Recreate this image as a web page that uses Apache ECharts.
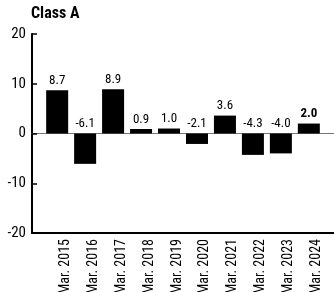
<!DOCTYPE html>
<html><head><meta charset="utf-8">
<script src="https://cdn.jsdelivr.net/npm/echarts@6/dist/echarts.min.js"></script>
<style>html,body{margin:0;padding:0;background:#fff}#c{width:334px;height:292px}</style>
</head><body><div id="c"></div>
<script>
const categories = ['Mar. 2015','Mar. 2016','Mar. 2017','Mar. 2018','Mar. 2019','Mar. 2020','Mar. 2021','Mar. 2022','Mar. 2023','Mar. 2024'];
const values = [8.7, -6.1, 8.9, 0.9, 1.0, -2.1, 3.6, -4.3, -4.0, 2.0];
const yTicks = [-20, -10, 0, 10, 20];
const title = 'Class A';
const FONT = '"Roboto Condensed", "Liberation Sans", sans-serif';
const idx = categories.map((c, i) => i);
const chart = echarts.init(document.getElementById('c'), null, {renderer: 'canvas'});
chart.setOption({
  animation: false,
  title: {text: title, left: 31, top: 6, padding: 0, textStyle: {fontFamily: FONT, fontSize: 16, fontWeight: 'bold', color: '#000'}},
  grid: {left: 32, right: 0, top: 34, bottom: 59, outerBoundsMode: 'none', containLabel: false},
  xAxis: [{
    type: 'value', min: -0.9, max: 9.9,
    axisLine: {show: true, onZero: true, lineStyle: {color: '#777', width: 1}},
    axisTick: {show: false}, splitLine: {show: false}, axisLabel: {show: false}
  }, {
    type: 'value', min: -0.9, max: 9.9, position: 'bottom',
    axisLine: {show: true, onZero: false, lineStyle: {color: '#000', width: 2}},
    axisTick: {show: false}, splitLine: {show: false},
    axisLabel: {
      show: true, customValues: idx, rotate: 90, margin: 6,
      verticalAlign: 'top', lineHeight: 16,
      formatter: v => categories[Math.round(v)] || '',
      fontFamily: FONT, fontSize: 14, color: '#000'
    }
  }],
  yAxis: {
    type: 'value', min: yTicks[0], max: yTicks[yTicks.length - 1], interval: 10,
    axisLine: {show: true, onZero: false, lineStyle: {color: '#000', width: 2}},
    axisTick: {show: true, inside: true, length: 5, lineStyle: {color: '#000', width: 1.5}},
    splitLine: {show: false},
    axisLabel: {fontFamily: FONT, fontSize: 15, color: '#000', margin: 6}
  },
  series: [{
    type: 'bar', xAxisIndex: 0, barWidth: 22,
    data: values.map((v, i) => ({
      value: [i, v],
      label: i === values.length - 1 ? {fontWeight: 'bold'} : {}
    })),
    itemStyle: {color: '#000'},
    label: {show: true, position: 'top', distance: 3, fontFamily: FONT, fontSize: 13, color: '#000',
      formatter: p => p.value[1].toFixed(1)}
  }]
});
</script></body></html>
